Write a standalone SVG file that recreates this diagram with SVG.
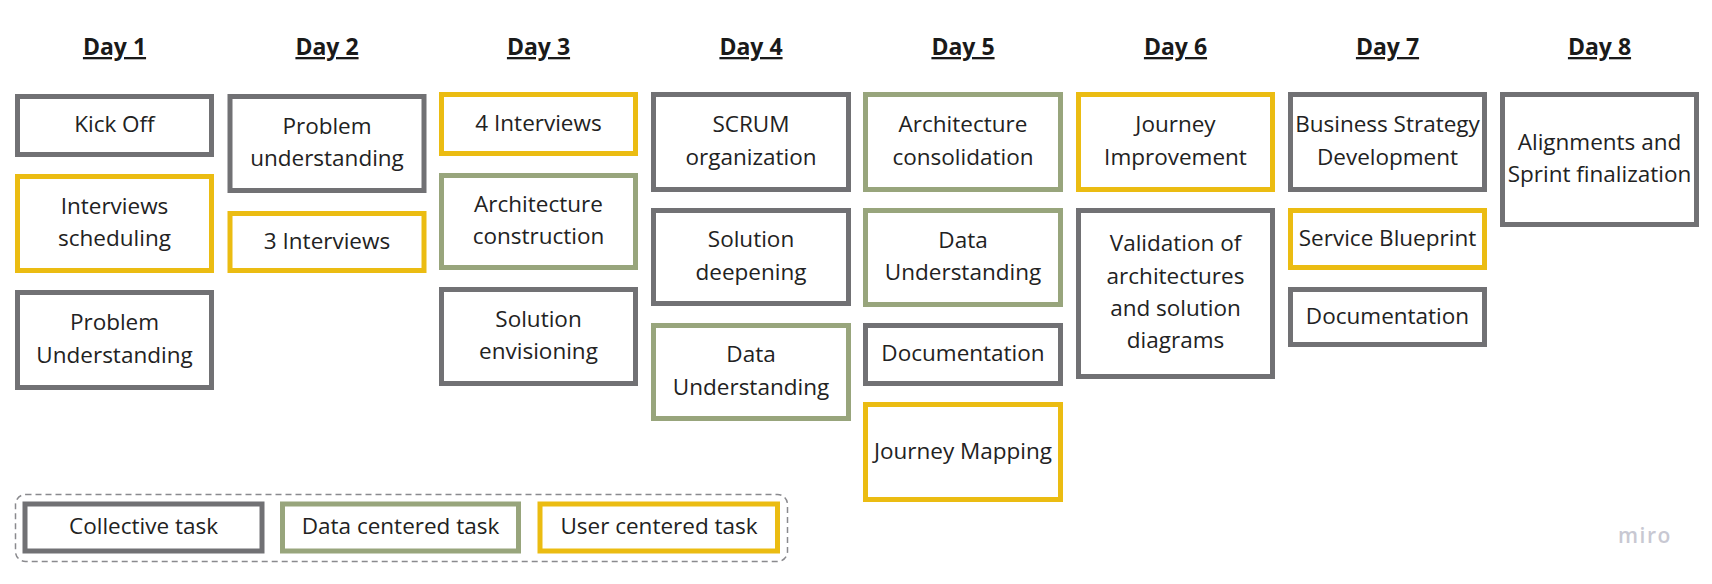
<svg xmlns="http://www.w3.org/2000/svg" width="1712" height="584" viewBox="0 0 1712 584">
<style>
.box{fill:#ffffff;stroke-width:5}
.gray{stroke:#717174}
.green{stroke:#98a57c}
.yellow{stroke:#ebbc12}
.t{font-family:"Open Sans","Liberation Sans",sans-serif;font-size:22.5px;fill:#222222;text-anchor:middle}
.h{font-family:"Open Sans","Liberation Sans",sans-serif;font-size:23px;font-weight:700;fill:#1a1a1a;text-anchor:middle;text-decoration:underline}
</style>
<rect x="0" y="0" width="1712" height="584" fill="#ffffff"/>
<g id="headings">
<text class="h" x="114.5" y="55">Day 1</text>
<text class="h" x="327" y="55">Day 2</text>
<text class="h" x="538.5" y="55">Day 3</text>
<text class="h" x="751" y="55">Day 4</text>
<text class="h" x="963" y="55">Day 5</text>
<text class="h" x="1175.5" y="55">Day 6</text>
<text class="h" x="1387.5" y="55">Day 7</text>
<text class="h" x="1599.5" y="55">Day 8</text>
</g>
<g id="connectors"/>
<!-- Day 1 -->
<g id="d1-kickoff"><rect class="box gray" x="17.5" y="96.5" width="194" height="58"/><text class="t" x="114.5" y="132">Kick Off</text></g>
<g id="d1-interviews-scheduling"><rect class="box yellow" x="17.5" y="176.5" width="194" height="94"/><text class="t"><tspan x="114.5" y="213.75">Interviews</tspan><tspan x="114.5" y="246">scheduling</tspan></text></g>
<g id="d1-problem-understanding"><rect class="box gray" x="17.5" y="292.5" width="194" height="95"/><text class="t"><tspan x="114.5" y="330.25">Problem</tspan><tspan x="114.5" y="362.5">Understanding</tspan></text></g>
<!-- Day 2 -->
<g id="d2-problem-understanding"><rect class="box gray" x="230" y="96.5" width="194" height="94"/><text class="t"><tspan x="327" y="133.75">Problem</tspan><tspan x="327" y="166">understanding</tspan></text></g>
<g id="d2-3-interviews"><rect class="box yellow" x="230" y="213.5" width="194" height="57"/><text class="t" x="327" y="248.5">3 Interviews</text></g>
<!-- Day 3 -->
<g id="d3-4-interviews"><rect class="box yellow" x="441.5" y="94.5" width="194" height="59"/><text class="t" x="538.5" y="130.5">4 Interviews</text></g>
<g id="d3-architecture-construction"><rect class="box green" x="441.5" y="175.5" width="194" height="92"/><text class="t"><tspan x="538.5" y="211.75">Architecture</tspan><tspan x="538.5" y="244">construction</tspan></text></g>
<g id="d3-solution-envisioning"><rect class="box gray" x="441.5" y="289.5" width="194" height="94"/><text class="t"><tspan x="538.5" y="326.75">Solution</tspan><tspan x="538.5" y="359">envisioning</tspan></text></g>
<!-- Day 4 -->
<g id="d4-scrum-organization"><rect class="box gray" x="653.5" y="94.5" width="195" height="95"/><text class="t"><tspan x="751" y="132.25">SCRUM</tspan><tspan x="751" y="164.5">organization</tspan></text></g>
<g id="d4-solution-deepening"><rect class="box gray" x="653.5" y="210.5" width="195" height="93"/><text class="t"><tspan x="751" y="247.25">Solution</tspan><tspan x="751" y="279.5">deepening</tspan></text></g>
<g id="d4-data-understanding"><rect class="box green" x="653.5" y="325.5" width="195" height="93"/><text class="t"><tspan x="751" y="362.25">Data</tspan><tspan x="751" y="394.5">Understanding</tspan></text></g>
<!-- Day 5 -->
<g id="d5-architecture-consolidation"><rect class="box green" x="865.5" y="94.5" width="195" height="95"/><text class="t"><tspan x="963" y="132.25">Architecture</tspan><tspan x="963" y="164.5">consolidation</tspan></text></g>
<g id="d5-data-understanding"><rect class="box green" x="865.5" y="210.5" width="195" height="94"/><text class="t"><tspan x="963" y="247.75">Data</tspan><tspan x="963" y="280">Understanding</tspan></text></g>
<g id="d5-documentation"><rect class="box gray" x="865.5" y="325.5" width="195" height="58"/><text class="t" x="963" y="361">Documentation</text></g>
<g id="d5-journey-mapping"><rect class="box yellow" x="865.5" y="404.5" width="195" height="95"/><text class="t" x="963" y="458.5">Journey Mapping</text></g>
<!-- Day 6 -->
<g id="d6-journey-improvement"><rect class="box yellow" x="1078.5" y="94.5" width="194" height="95"/><text class="t"><tspan x="1175.5" y="132.25">Journey</tspan><tspan x="1175.5" y="164.5">Improvement</tspan></text></g>
<g id="d6-validation"><rect class="box gray" x="1078.5" y="210.5" width="194" height="166"/><text class="t"><tspan x="1175.5" y="251.25">Validation of</tspan><tspan x="1175.5" y="283.5">architectures</tspan><tspan x="1175.5" y="315.75">and solution</tspan><tspan x="1175.5" y="348">diagrams</tspan></text></g>
<!-- Day 7 -->
<g id="d7-business-strategy"><rect class="box gray" x="1290.5" y="94.5" width="194" height="95"/><text class="t"><tspan x="1387.5" y="132.25">Business Strategy</tspan><tspan x="1387.5" y="164.5">Development</tspan></text></g>
<g id="d7-service-blueprint"><rect class="box yellow" x="1290.5" y="210.5" width="194" height="57"/><text class="t" x="1387.5" y="245.5">Service Blueprint</text></g>
<g id="d7-documentation"><rect class="box gray" x="1290.5" y="289.5" width="194" height="55"/><text class="t" x="1387.5" y="323.5">Documentation</text></g>
<!-- Day 8 -->
<g id="d8-alignments"><rect class="box gray" x="1502.5" y="94.5" width="194" height="130"/><text class="t"><tspan x="1599.5" y="149.75">Alignments and</tspan><tspan x="1599.5" y="182">Sprint finalization</tspan></text></g>
<!-- Legend -->
<g id="legend">
<rect x="15.5" y="494.5" width="772" height="67" rx="10" ry="10" fill="none" stroke="#8a8a8e" stroke-width="1.5" stroke-dasharray="6 4"/>
<g id="legend-collective"><rect class="box gray" x="25" y="504" width="237" height="47"/><text class="t" x="143.5" y="534">Collective task</text></g>
<g id="legend-data"><rect class="box green" x="282.5" y="504" width="236" height="47"/><text class="t" x="400.5" y="534">Data centered task</text></g>
<g id="legend-user"><rect class="box yellow" x="540" y="504" width="237.5" height="47"/><text class="t" x="659" y="534">User centered task</text></g>
</g>
<text x="1618" y="543" font-family="Open Sans, Liberation Sans, sans-serif" font-size="21" font-weight="600" letter-spacing="1.5" fill="#c8c8d2">miro</text>
</svg>
